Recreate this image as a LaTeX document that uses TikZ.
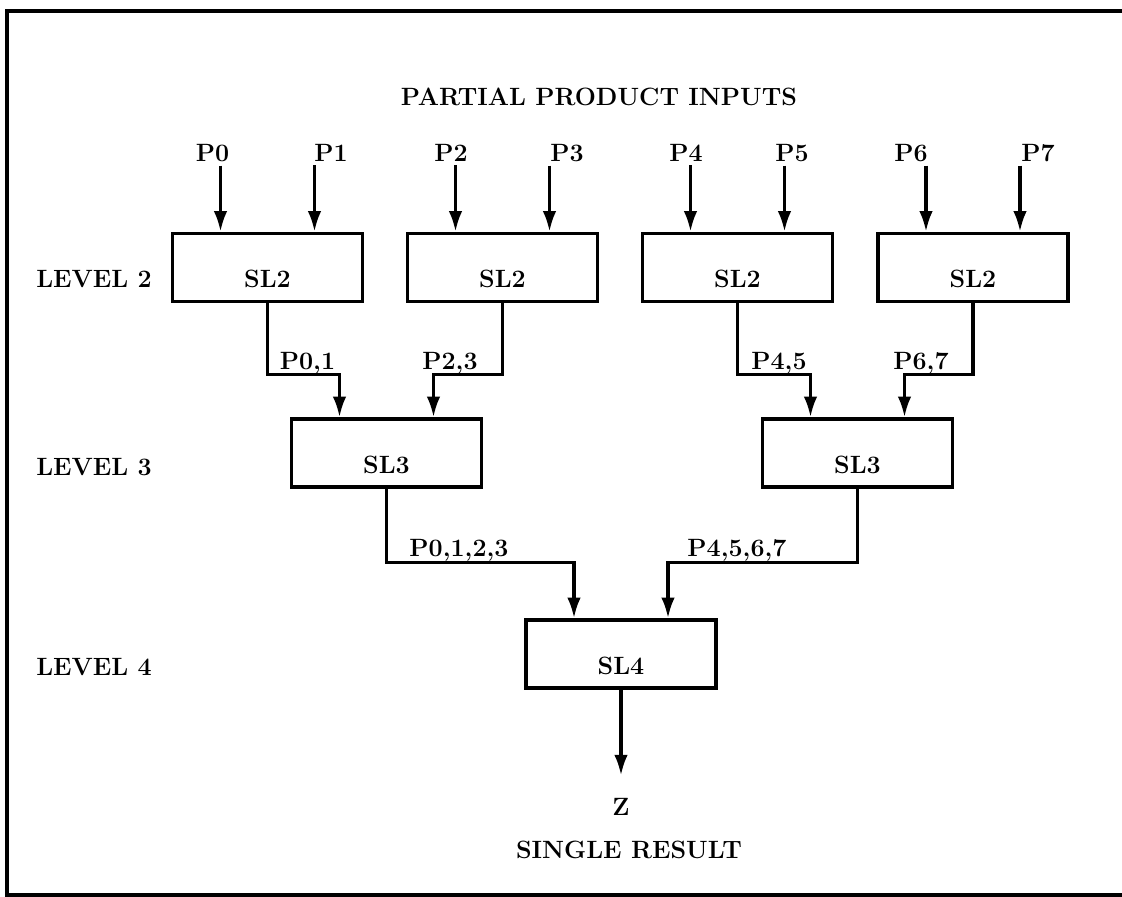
\documentclass[tikz,border=0pt]{standalone}
\usepackage{tikz}
\usetikzlibrary{arrows.meta, positioning, calc}

\begin{document}
\begin{tikzpicture}[
  box/.style={rectangle, draw, line width=0.085cm, minimum width=4.75cm,
              minimum height=1.7cm, text height=1cm, text depth=0pt, inner sep=0pt,
              font=\fontsize{17.8}{21}\selectfont\bfseries},
  lbl/.style={font=\fontsize{17.8}{21}\selectfont\bfseries, anchor=base, inner sep=0.1cm},
  flow/.style={-{Latex[length=0.52cm,width=0.34cm]}, line width=0.085cm}
]
  \useasboundingbox (0,0) rectangle (28.05,-22.425);

  % Frame (open on the right)
  \draw[line width=0.08cm] (28.2,-0.275) -- (0.175,-0.275) -- (0.175,-22.375) -- (28.2,-22.375);

  % Level 2
  \node[box] (sl2a) at (6.6875,-6.6875) {SL2};
  \node[box] (sl2b) at (12.5625,-6.6875) {SL2};
  \node[box] (sl2c) at (18.4375,-6.6875) {SL2};
  \node[box] (sl2d) at (24.325,-6.6875) {SL2};

  % Level 3
  \node[box] (sl3a) at (9.6625,-11.325) {SL3};
  \node[box] (sl3b) at (21.4375,-11.325) {SL3};

  % Level 4
  \node[box] (sl4) at (15.525,-16.35) {SL4};

  % Level names
  \node[lbl, anchor=base west] (lev2) at (0.8,-7.175) {LEVEL 2};
  \node[lbl, anchor=base west] (lev3) at (0.8,-11.875) {LEVEL 3};
  \node[lbl, anchor=base west] (lev4) at (0.8,-16.875) {LEVEL 4};

  % Input ports
  \coordinate (in0) at ([xshift=-1.175cm]sl2a.north);
  \coordinate (in1) at ([xshift=1.175cm]sl2a.north);
  \coordinate (in2) at ([xshift=-1.175cm]sl2b.north);
  \coordinate (in3) at ([xshift=1.175cm]sl2b.north);
  \coordinate (in4) at ([xshift=-1.175cm]sl2c.north);
  \coordinate (in5) at ([xshift=1.175cm]sl2c.north);
  \coordinate (in6) at ([xshift=-1.175cm]sl2d.north);
  \coordinate (in7) at ([xshift=1.175cm]sl2d.north);
  \coordinate (a0) at ([xshift=-1.175cm]sl3a.north);
  \coordinate (a1) at ([xshift=1.175cm]sl3a.north);
  \coordinate (b0) at ([xshift=-1.175cm]sl3b.north);
  \coordinate (b1) at ([xshift=1.175cm]sl3b.north);
  \coordinate (c0) at ([xshift=-1.175cm]sl4.north);
  \coordinate (c1) at ([xshift=1.175cm]sl4.north);

  % Partial product inputs
  \node[lbl] (title) at (14.975,-2.625) {PARTIAL PRODUCT INPUTS};
  \node[lbl] (p0) at (5.3125,-4.025) {P0};
  \node[lbl] (p1) at (8.275,-4.025) {P1};
  \node[lbl] (p2) at (11.275,-4.025) {P2};
  \node[lbl] (p3) at (14.175,-4.025) {P3};
  \node[lbl] (p4) at (17.15,-4.025) {P4};
  \node[lbl] (p5) at (19.8,-4.025) {P5};
  \node[lbl] (p6) at (22.775,-4.025) {P6};
  \node[lbl] (p7) at (25.95,-4.025) {P7};

  \draw[flow] (p0.south -| in0) -- (in0);
  \draw[flow] (p1.south -| in1) -- (in1);
  \draw[flow] (p2.south -| in2) -- (in2);
  \draw[flow] (p3.south -| in3) -- (in3);
  \draw[flow] (p4.south -| in4) -- (in4);
  \draw[flow] (p5.south -| in5) -- (in5);
  \draw[flow] (p6.south -| in6) -- (in6);
  \draw[flow] (p7.south -| in7) -- (in7);

  % Level 2 -> level 3
  \draw[flow] (sl2a.south) -- ++(0,-1.775) -| (a0);
  \draw[flow] (sl2b.south) -- ++(0,-1.775) -| (a1);
  \draw[flow] (sl2c.south) -- ++(0,-1.775) -| (b0);
  \draw[flow] (sl2d.south) -- ++(0,-1.775) -| (b1);
  \node[lbl] (q01) at (7.6875,-9.225) {P0,1};
  \node[lbl] (q23) at (11.25,-9.225) {P2,3};
  \node[lbl] (q45) at (19.475,-9.225) {P4,5};
  \node[lbl] (q67) at (23.025,-9.225) {P6,7};

  % Level 3 -> level 4
  \draw[flow] (sl3a.south) -- ++(0,-1.85) -| (c0);
  \draw[flow] (sl3b.south) -- ++(0,-1.85) -| (c1);
  \node[lbl] (q0123) at (11.475,-13.9) {P0,1,2,3};
  \node[lbl] (q4567) at (18.425,-13.9) {P4,5,6,7};

  % Result
  \node[lbl] (z) at (15.525,-20.375) {Z};
  \node[lbl] (res) at (15.725,-21.45) {SINGLE RESULT};
  \draw[flow, shorten >=0.45cm] (sl4.south) -- (z.north);
\end{tikzpicture}
\end{document}
